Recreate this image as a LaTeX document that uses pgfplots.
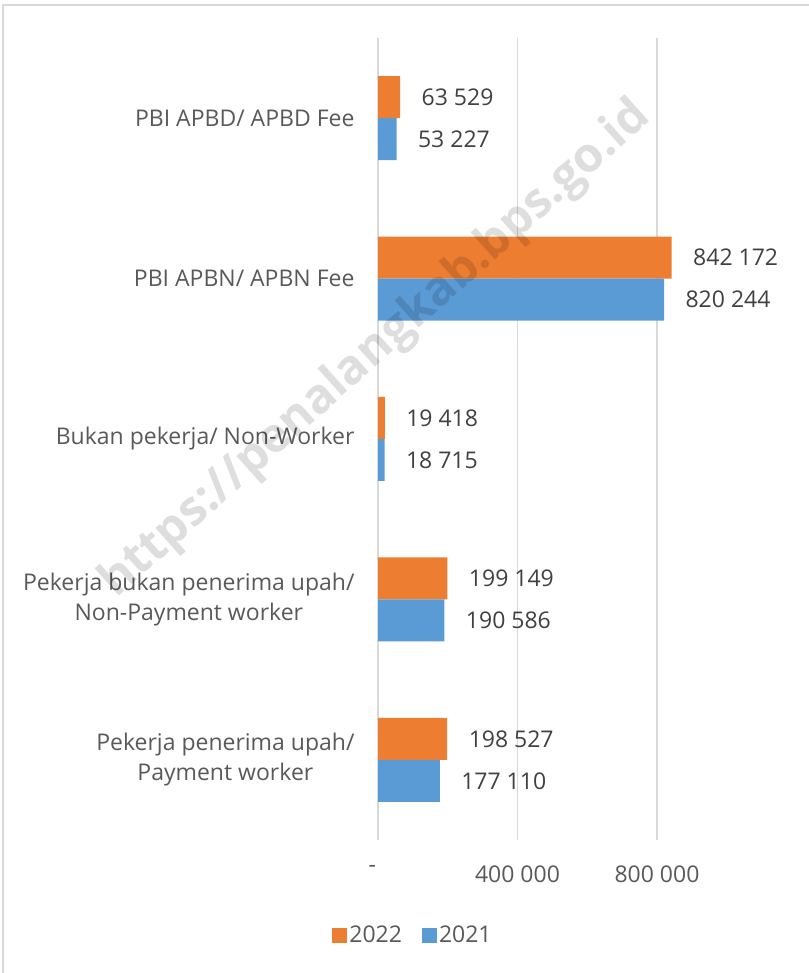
\documentclass[border=0pt]{standalone}
\usepackage{pgfplots}
\pgfplotsset{compat=1.18}
\usepackage{fontspec}
\setmainfont{Open Sans}
\definecolor{c22}{HTML}{ED7D31}
\definecolor{c21}{HTML}{5B9BD5}
\definecolor{gridc}{HTML}{D9D9D9}
\definecolor{lab}{HTML}{595959}
\definecolor{val}{HTML}{404040}
\begin{document}
\begin{tikzpicture}
\useasboundingbox (0,0) rectangle (809bp,973bp);
\draw[gridc, line width=1.5bp] (3bp,0) -- (3bp,968bp) -- (809bp,968bp);
\begin{axis}[
  at={(378bp,133bp)}, anchor=south west,
  scale only axis, width=348.75bp, height=802bp,
  xmin=0, xmax=1000000, ymin=-0.5, ymax=4.5,
  xbar, bar width=42bp,
  axis line style={draw=none},
  major tick length=0,
  scaled x ticks=false,
  xmajorgrids, major grid style={gridc, line width=1.5bp},
  xtick={0,400000,800000},
  xticklabels={-\hphantom{--}, 400 000, 800 000},
  xticklabel style={font=\fontsize{23bp}{27bp}\selectfont, text=lab, yshift=-22bp},
  ytick={0,1,2,3,4},
  yticklabels={{Pekerja penerima upah/\\Payment worker},{Pekerja bukan penerima upah/\\Non-Payment worker},{Bukan pekerja/ Non-Worker},{PBI APBN/ APBN Fee},{PBI APBD/ APBD Fee}},
  yticklabel style={font=\fontsize{23bp}{30bp}\selectfont, text=lab, align=center, xshift=-20bp},
  /pgf/number format/.cd, fixed, precision=0, 1000 sep={\ }, assume math mode=true,
  /pgfplots/.cd,
  nodes near coords,
  nodes near coords style={anchor=west, xshift=18bp, font=\fontsize{23bp}{27bp}\selectfont, text=val},
  legend style={at={(0.1004,-0.1185)}, anchor=center, draw=none, legend columns=2,
    font=\fontsize{23bp}{27bp}\selectfont, text=lab,
    /tikz/every even column/.append style={column sep=18bp}},
  legend image code/.code={\fill[#1] (0bp,-7.5bp) rectangle (15bp,7.5bp);},
  clip=false,
]
\addplot[fill=c22, draw=none, bar shift=21bp] coordinates {
  (198527,0) (199149,1) (19418,2) (842172,3) (63529,4)};
\addplot[fill=c21, draw=none, bar shift=-21bp] coordinates {
  (177110,0) (190586,1) (18715,2) (820244,3) (53227,4)};
\legend{2022,2021}
\end{axis}
\node[rotate=41.8, text=black, opacity=0.13, font=\fontsize{48bp}{54bp}\selectfont\bfseries] at (376bp,623bp) {https://penalangkab.bps.go.id};
\end{tikzpicture}
\end{document}
